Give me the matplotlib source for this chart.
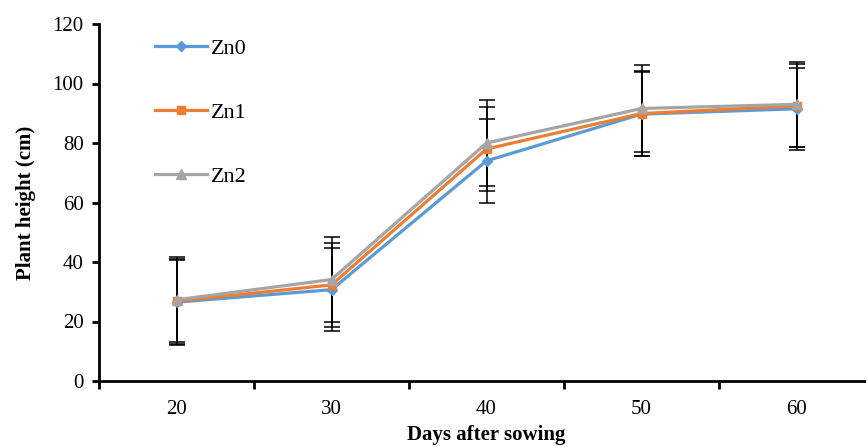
import numpy as np
import matplotlib.pyplot as plt

days = ["20", "30", "40", "50", "60"]
zn0 = [26.5, 30.7, 74.0, 89.7, 91.5]
zn1 = [26.8, 32.3, 78.0, 89.9, 92.5]
zn2 = [27.3, 34.1, 80.0, 91.6, 93.0]
err0 = [14.3, 14.0, 14.0, 14.2, 13.8]
err1 = [14.3, 14.1, 14.0, 14.2, 14.0]
err2 = [14.3, 14.3, 14.5, 14.5, 14.3]

plt.rcParams['font.family'] = ['Liberation Serif', 'DejaVu Serif']

fig = plt.figure(figsize=(8.66, 4.47), dpi=100)
ax = fig.add_axes([99/866, 1-381/447, 775/866, 357/447])

x = np.arange(len(days))
series = [
    ("Zn0", zn0, err0, "#5B9BD5", "D", 5),
    ("Zn1", zn1, err1, "#ED7D31", "s", 6),
    ("Zn2", zn2, err2, "#A5A5A5", "^", 7),
]
for name, vals, err, col, mk, ms in series:
    ax.errorbar(x, vals, yerr=err, fmt="none", ecolor="black", elinewidth=1.1,
                capsize=6, capthick=1.1, zorder=1)
for name, vals, err, col, mk, ms in series:
    ax.plot(x, vals, color=col, lw=2.3, marker=mk, markersize=ms, label=name, zorder=3)

ax.set_xlim(-0.5, len(days) - 0.5)
ax.set_ylim(0, 120)
ax.set_yticks(range(0, 121, 20))
ax.set_xticks(x)
ax.set_xticklabels(days)
ax.set_xticks(np.arange(-0.5, len(days), 1), minor=True)
ax.tick_params(axis="x", which="major", length=0, pad=14, labelsize=15)
ax.tick_params(axis="x", which="minor", length=6, width=2, direction="out")
ax.tick_params(axis="y", length=5, width=2, direction="out", labelsize=15, pad=6)

for s in ["top", "right"]:
    ax.spines[s].set_visible(False)
for s in ["left", "bottom"]:
    ax.spines[s].set_linewidth(2)

ax.set_ylabel("Plant height (cm)", fontsize=15, fontweight="bold", labelpad=12)
ax.set_xlabel("Days after sowing", fontsize=15, fontweight="bold", labelpad=4)

ax.legend(loc="upper left", bbox_to_anchor=(0.047, 1.015), frameon=False,
          fontsize=16, handlelength=2.3, labelspacing=1.95, handletextpad=0.2)

fig.savefig("out.png", dpi=100)
